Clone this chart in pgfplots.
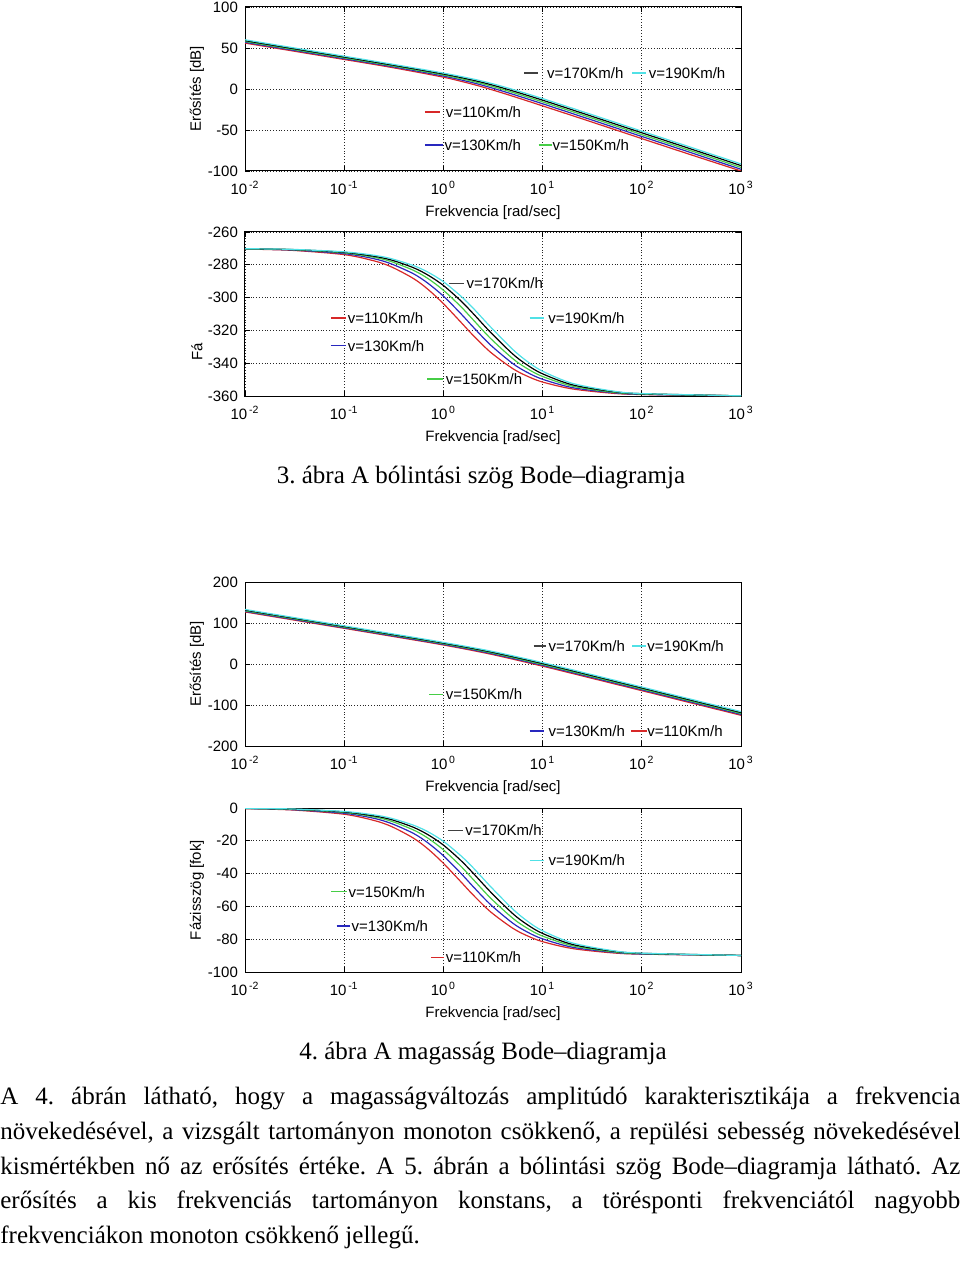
\documentclass[border=0pt]{standalone}
\usepackage{fontspec}
\setmainfont{Liberation Serif}
\setsansfont{Liberation Sans}
\usepackage{pgfplots}
\usepackage{pgfplotstable}
\pgfplotsset{compat=1.18}
\frenchspacing

\definecolor{cR}{RGB}{215,40,40}
\definecolor{cB}{RGB}{40,40,190}
\definecolor{cG}{RGB}{70,205,70}
\definecolor{cK}{RGB}{0,0,0}
\definecolor{cC}{RGB}{80,225,230}

\newcommand{\axisfont}{\sffamily\fontsize{7.5}{9}\selectfont}
\newcommand{\txtfont}{\rmfamily\fontsize{12.5}{17.5}\selectfont}

% in-plot labels: colour, line x1, line x2, text x, y, text
\newcommand{\lab}[6]{%
  \draw[draw=#1, line width=0.8pt] (axis cs:#2,#5) -- (axis cs:#3,#5);
  \node[anchor=west, inner sep=0pt, font=\axisfont] at (axis cs:#4,#5) {#6};}

% ---- data ----
% pitch (nodding) magnitude
\pgfplotstableread{
x     r      b      g      k      c
0.01  56     57     58     59     60
0.1   36     37     38     39     40
0.3   26.3   27.4   28.4   29.4   30.4
1     14.4   15.8   17.1   18.3   19.4
2     5.6    7.5    9.2    10.7   12.1
3     -0.5   1.7    3.7    5.4    7.0
5     -8.8   -6.4   -4.2   -2.3   -0.5
10    -20.6  -18.0  -15.7  -13.6  -11.7
30    -39.5  -37.0  -34.6  -32.5  -30.5
100   -60.5  -57.9  -55.6  -53.4  -51.4
300   -79.5  -76.9  -74.6  -72.4  -70.4
1000  -100   -97.9  -95.6  -93.4  -91.4
}\magA
% pitch (nodding) phase
\pgfplotstableread{
x     r       b       g       k       c
0.01  -270.4  -270.3  -270.3  -270.2  -270.2
0.03  -271.2  -271.0  -270.8  -270.7  -270.6
0.1   -273.8  -273.2  -272.7  -272.4  -272.1
0.2   -277.6  -276.3  -275.4  -274.8  -274.2
0.3   -281.3  -279.5  -278.1  -277.1  -276.3
0.5   -288.4  -285.5  -283.4  -281.8  -280.5
0.7   -295.0  -291.3  -288.4  -286.3  -284.5
1     -303.7  -299.1  -295.5  -292.6  -290.3
1.5   -315.0  -309.8  -305.5  -302.0  -299.1
2     -323.1  -318.0  -313.6  -309.8  -306.5
3     -333.4  -329.0  -325.0  -321.3  -318.0
5     -343.3  -340.2  -337.2  -334.4  -331.6
7     -347.9  -345.6  -343.3  -341.1  -338.9
10    -351.5  -349.8  -348.1  -346.5  -344.9
20    -355.7  -354.9  -354.0  -353.2  -352.3
50    -358.3  -357.9  -357.6  -357.2  -356.9
100   -359.1  -359.0  -358.8  -358.6  -358.5
1000  -359.9  -359.9  -359.9  -359.9  -359.9
}\phaA
% altitude magnitude
\pgfplotstableread{
x     r       b       g       k       c
0.01  127     128.5   130     131.5   133
0.03  107.9   109.4   110.9   112.4   113.9
0.1   87.0    88.5    90.0    91.5    93.0
0.3   67.8    69.3    70.9    72.4    73.9
1     46.4    48.0    49.6    51.1    52.7
3     24.0    25.9    27.8    29.6    31.5
10    -5.3    -3.1    -1.0    1.2     3.4
30    -33.7   -31.5   -29.3   -27.0   -24.8
100   -65.0   -62.8   -60.6   -58.3   -56.1
300   -93.7   -91.5   -89.3   -87.0   -84.8
1000  -125.0  -122.8  -120.6  -118.3  -116.1
}\magB
% altitude phase
\pgfplotstableread{
x     r      b      g      k      c
0.01  -0.4   -0.3   -0.3   -0.2   -0.2
0.03  -1.2   -1.0   -0.8   -0.7   -0.6
0.1   -3.8   -3.2   -2.7   -2.4   -2.1
0.2   -7.6   -6.3   -5.4   -4.8   -4.2
0.3   -11.3  -9.5   -8.1   -7.1   -6.3
0.5   -18.4  -15.5  -13.4  -11.8  -10.5
0.7   -25.0  -21.3  -18.4  -16.3  -14.5
1     -33.7  -29.1  -25.5  -22.6  -20.3
1.5   -45.0  -39.8  -35.5  -32.0  -29.1
2     -53.1  -48.0  -43.6  -39.8  -36.5
3     -63.4  -59.0  -55.0  -51.3  -48.0
5     -73.3  -70.2  -67.2  -64.4  -61.6
7     -77.9  -75.6  -73.3  -71.1  -68.9
10    -81.5  -79.8  -78.1  -76.5  -74.9
20    -85.7  -84.9  -84.0  -83.2  -82.3
50    -88.3  -87.9  -87.6  -87.2  -86.9
100   -89.1  -89.0  -88.8  -88.6  -88.5
1000  -89.9  -89.9  -89.9  -89.9  -89.9
}\phaB

\pgfplotsset{
  every axis/.append style={
    anchor=south west,
    scale only axis,
    width=248pt, height=82pt,
    xmin=0.01, xmax=1000,
    xtick={0.01,0.1,1,10,100,1000},
    xticklabels={10\textsuperscript{\,-2},10\textsuperscript{\,-1},10\textsuperscript{\,0},
                 10\textsuperscript{\,1},10\textsuperscript{\,2},10\textsuperscript{\,3}},
    xticklabel style={yshift=-1.5pt},
    xminorticks=false,
    grid=major,
    major grid style={densely dotted, black!85, line width=0.4pt},
    tick align=inside,
    major tick length=2.5pt,
    tick style={black, line width=0.4pt},
    axis line style={line width=0.5pt},
    tick label style={font=\axisfont},
    label style={font=\axisfont},
    xlabel={Frekvencia [rad/sec]},
    xlabel style={at={(axis description cs:0.5,-0.256)}, anchor=center},
    ylabel style={at={(axis description cs:-0.097,0.5)}, anchor=center},
  },
  every axis plot/.append style={line width=0.6pt, smooth},
}

\begin{document}
\begin{tikzpicture}
\useasboundingbox (0,0) rectangle (480pt,-641.5pt);

% ---- plot 1: nodding angle, magnitude ----
\begin{semilogxaxis}[at={(122.5pt,-85.5pt)},
    ymin=-100, ymax=100, ytick={-100,-50,0,50,100},
    yticklabels={-100,-50,0,50,100},
    ylabel={Erősítés [dB]}]
\addplot[cR] table[x=x, y=r] {\magA};
\addplot[cB] table[x=x, y=b] {\magA};
\addplot[cG] table[x=x, y=g] {\magA};
\addplot[cK] table[x=x, y=k] {\magA};
\addplot[cC] table[x=x, y=c] {\magA};
\lab{cK!75}{6.5}{8.9}{11}{19.6}{v=170Km/h}
\lab{cC}{80}{110}{117}{19.6}{v=190Km/h}
\lab{cR}{0.65}{0.93}{1.05}{-28.4}{v=110Km/h}
\lab{cB}{0.65}{1.0}{1.02}{-68}{v=130Km/h}
\lab{cG}{9.1}{12.3}{12.5}{-68}{v=150Km/h}
\end{semilogxaxis}

% ---- plot 2: nodding angle, phase ----
\begin{semilogxaxis}[at={(122.5pt,-198pt)},
    ymin=-360, ymax=-260, ytick={-360,-340,-320,-300,-280,-260},
    yticklabels={-360,-340,-320,-300,-280,-260}]
\addplot[cR] table[x=x, y=r] {\phaA};
\addplot[cB] table[x=x, y=b] {\phaA};
\addplot[cG] table[x=x, y=g] {\phaA};
\addplot[cK] table[x=x, y=k] {\phaA};
\addplot[cC] table[x=x, y=c] {\phaA};
\lab{cK!75}{1.15}{1.63}{1.7}{-291.4}{v=170Km/h}
\lab{cR}{0.074}{0.104}{0.108}{-312.3}{v=110Km/h}
\lab{cC}{7.4}{10.4}{11.3}{-312.3}{v=190Km/h}
\lab{cB}{0.073}{0.104}{0.108}{-329.3}{v=130Km/h}
\lab{cG}{0.69}{1.0}{1.05}{-349.8}{v=150Km/h}
\end{semilogxaxis}
\node[rotate=90, font=\axisfont] at (98.5pt,-176pt) {Fá};

% ---- plot 3: altitude, magnitude ----
\begin{semilogxaxis}[at={(122.5pt,-373pt)},
    ymin=-200, ymax=200, ytick={-200,-100,0,100,200},
    yticklabels={-200,-100,0,100,200},
    ylabel={Erősítés [dB]}]
\addplot[cR] table[x=x, y=r] {\magB};
\addplot[cB] table[x=x, y=b] {\magB};
\addplot[cG] table[x=x, y=g] {\magB};
\addplot[cK] table[x=x, y=k] {\magB};
\addplot[cC] table[x=x, y=c] {\magB};
\lab{cK!75}{8.1}{10.9}{11.4}{43.9}{v=170Km/h}
\lab{cC}{80}{110}{113}{43.9}{v=190Km/h}
\lab{cG}{0.72}{1.0}{1.05}{-74}{v=150Km/h}
\lab{cB}{7.4}{10.4}{11.4}{-163.4}{v=130Km/h}
\lab{cR}{78}{112}{113}{-163.4}{v=110Km/h}
\end{semilogxaxis}

% ---- plot 4: altitude, phase ----
\begin{semilogxaxis}[at={(122.5pt,-486pt)},
    ymin=-100, ymax=0, ytick={-100,-80,-60,-40,-20,0},
    yticklabels={-100,-80,-60,-40,-20,0},
    ylabel={Fázisszög [fok]}]
\addplot[cR] table[x=x, y=r] {\phaB};
\addplot[cB] table[x=x, y=b] {\phaB};
\addplot[cG] table[x=x, y=g] {\phaB};
\addplot[cK] table[x=x, y=k] {\phaB};
\addplot[cC] table[x=x, y=c] {\phaB};
\lab{cK!75}{1.12}{1.58}{1.65}{-13.7}{v=170Km/h}
\lab{cC}{7.4}{10.4}{11.4}{-32}{v=190Km/h}
\lab{cG}{0.074}{0.106}{0.11}{-51}{v=150Km/h}
\lab{cB}{0.084}{0.115}{0.118}{-71.8}{v=130Km/h}
\lab{cR}{0.75}{1.02}{1.05}{-91.2}{v=110Km/h}
\end{semilogxaxis}

% ---- captions and text ----
\node[anchor=base, font=\txtfont, inner sep=0pt] at (240.5pt,-241.5pt)
  {3. ábra A bólintási szög Bode–diagramja};
\node[anchor=base, font=\txtfont, inner sep=0pt] at (241.5pt,-529.5pt)
  {4. ábra A magasság Bode–diagramja};

\node[anchor=base west, font=\txtfont, inner sep=0pt] at (0pt,-552pt)
  {\makebox[480pt][s]{A 4. ábrán látható, hogy a magasságváltozás amplitúdó karakterisztikája a frekvencia}};
\node[anchor=base west, font=\txtfont, inner sep=0pt] at (0pt,-569.5pt)
  {\makebox[480pt][s]{növekedésével, a vizsgált tartományon monoton csökkenő, a repülési sebesség növekedésével}};
\node[anchor=base west, font=\txtfont, inner sep=0pt] at (0pt,-587pt)
  {\makebox[480pt][s]{kismértékben nő az erősítés értéke. A 5. ábrán a bólintási szög Bode–diagramja látható. Az}};
\node[anchor=base west, font=\txtfont, inner sep=0pt] at (0pt,-604pt)
  {\makebox[480pt][s]{erősítés a kis frekvenciás tartományon konstans, a törésponti frekvenciától nagyobb}};
\node[anchor=base west, font=\txtfont, inner sep=0pt] at (0pt,-621.5pt)
  {\makebox[480pt][s]{frekvenciákon monoton csökkenő jellegű.\hfill}};
\end{tikzpicture}
\end{document}
